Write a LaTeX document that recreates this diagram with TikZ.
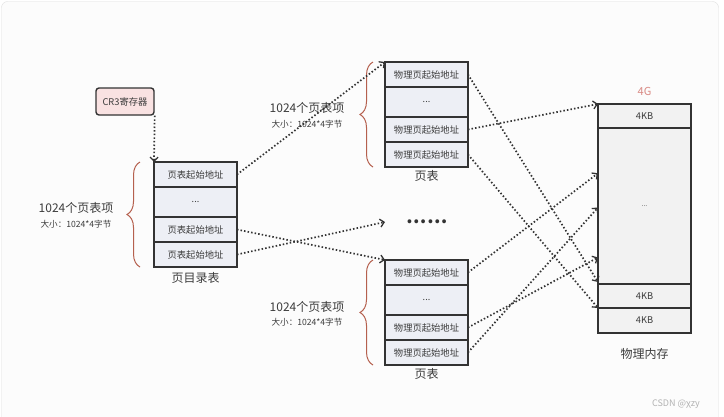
\documentclass[tikz,border=0pt]{standalone}
\usepackage{fontspec}
\setmainfont{Noto Sans CJK SC}
\usepackage{xcolor}
\usetikzlibrary{arrows.meta, positioning}
\usetikzlibrary{decorations.pathreplacing}
\usetikzlibrary{calc}

\definecolor{linegray}{HTML}{333333}
\definecolor{txtgray}{HTML}{3C3C3C}
\definecolor{rowfill}{HTML}{EDEFF5}
\definecolor{memfill}{HTML}{F2F2F2}
\definecolor{bracered}{HTML}{B5604E}
\definecolor{cregfill}{HTML}{F9E2E2}
\definecolor{gigred}{HTML}{D98A84}

\tikzset{
  tabrow/.style={draw=linegray, line width=1.4pt, fill=rowfill, minimum width=83pt,
    minimum height=25pt, inner sep=0pt, outer sep=0pt, text=txtgray,
    font=\fontsize{9.3}{10}\selectfont},
  gaprow/.style={tabrow, minimum height=30pt},
  memrow/.style={tabrow, fill=memfill, minimum width=93pt, minimum height=24pt},
  dotarrow/.style={draw=linegray, line width=1.7pt, dash pattern=on 1.5pt off 2.1pt,
    -{Straight Barb[length=4pt,width=8pt,line width=1.3pt]}},
  redbrace/.style={decorate, decoration={brace, amplitude=13pt}, draw=bracered, line width=1pt},
  caption/.style={text=txtgray, font=\fontsize{12}{13}\selectfont},
  countlbl/.style={text=txtgray, font=\fontsize{12}{13}\selectfont, inner sep=0pt},
  sizelbl/.style={text=txtgray, font=\fontsize{8.6}{9}\selectfont, inner sep=0pt},
}

\begin{document}
\begin{tikzpicture}[x=1pt, y=-1pt]
  \useasboundingbox (0,0) rectangle (724,416);
  \draw[draw=black!13, fill=black!1, rounded corners=6pt] (1.5,1.5) rectangle (718.5,430);

  % CR3 register
  \node[draw=linegray, line width=1.4pt, fill=cregfill, rounded corners=3pt,
        minimum width=58pt, minimum height=27pt, inner sep=0pt, text=txtgray,
        font=\fontsize{9.3}{10}\selectfont] (cr3) at (125,101.5) {CR3寄存器};

  % page directory
  \node[tabrow] (pd1) at (195.5,174.5) {页表起始地址};
  \node[gaprow, below=0pt of pd1] (pd2) {\small ...};
  \node[tabrow, below=0pt of pd2] (pd3) {页表起始地址};
  \node[tabrow, below=0pt of pd3] (pd4) {页表起始地址};
  \node[caption, below=2pt of pd4] (pdname) {页目录表};

  % page table 1
  \node[tabrow] (pt1a) at (426.5,74.5) {物理页起始地址};
  \node[gaprow, below=0pt of pt1a] (pt1b) {\small ...};
  \node[tabrow, below=0pt of pt1b] (pt1c) {物理页起始地址};
  \node[tabrow, below=0pt of pt1c] (pt1d) {物理页起始地址};
  \node[caption, below=0pt of pt1d] (pt1name) {页表};

  % page table 2
  \node[tabrow] (pt2a) at (426.5,272.5) {物理页起始地址};
  \node[gaprow, below=0pt of pt2a] (pt2b) {\small ...};
  \node[tabrow, below=0pt of pt2b] (pt2c) {物理页起始地址};
  \node[tabrow, below=0pt of pt2c] (pt2d) {物理页起始地址};
  \node[caption, below=0pt of pt2d] (pt2name) {页表};

  \node[text=linegray, font=\fontsize{18}{18}\selectfont\bfseries] (dots) at (427,222) {……};

  % physical memory
  \node[memrow] (mem1) at (644.5,116) {4KB};
  \node[memrow, minimum height=156pt, below=0pt of mem1] (mem2) {\scriptsize ...};
  \node[memrow, below=0pt of mem2] (mem3) {4KB};
  \node[memrow, minimum height=25pt, below=0pt of mem3] (mem4) {4KB};
  \node[text=gigred, font=\fontsize{11}{12}\selectfont, above=5pt of mem1] (gig) {4G};
  \node[caption, below=12pt of mem4] (memname) {物理内存};

  % braces and counts
  \draw[redbrace] ([xshift=-14pt]pd4.south west) -- ([xshift=-14pt]pd1.north west);
  \draw[redbrace] ([xshift=-12pt]pt1d.south west) -- ([xshift=-12pt]pt1a.north west);
  \draw[redbrace] ([xshift=-12pt]pt2d.south west) -- ([xshift=-12pt]pt2a.north west);
  \node[countlbl] (pdcount) at (76,208) {1024个页表项};
  \node[sizelbl] (pdsize) at (76,224) {大小：1024*4字节};
  \node[countlbl] (pt1count) at (307,108) {1024个页表项};
  \node[sizelbl] (pt1size) at (307,124) {大小：1024*4字节};
  \node[countlbl] (pt2count) at (307,307) {1024个页表项};
  \node[sizelbl] (pt2size) at (307,322) {大小：1024*4字节};

  % pointers
  \draw[dotarrow] (cr3.south east) -- (pd1.north west);
  \draw[dotarrow] (pd1.east) -- (pt1a.north west);
  \draw[dotarrow] (pd3.east) -- (pt2a.north west);
  \draw[dotarrow] (pd4.east) -- (dots -| pt2a.west);

  \draw[dotarrow] (pt1a.east) -- ([yshift=2pt]mem3.north west);
  \draw[dotarrow] (pt1c.east) -- (mem1.north west);
  \draw[dotarrow] (pt1d.east) -- (mem4.north west);
  \draw[dotarrow] (pt2a.east) -- ($(mem2.north west)!.29!(mem2.south west)$);
  \draw[dotarrow] (pt2c.east) -- ($(mem2.north west)!.83!(mem2.south west)$);
  \draw[dotarrow] (pt2d.east) -- ($(mem2.north west)!.51!(mem2.south west)$);

  \node[text=black!30, font=\fontsize{9}{10}\selectfont] (mark) at (676,404) {CSDN @χzy};
\end{tikzpicture}
\end{document}
